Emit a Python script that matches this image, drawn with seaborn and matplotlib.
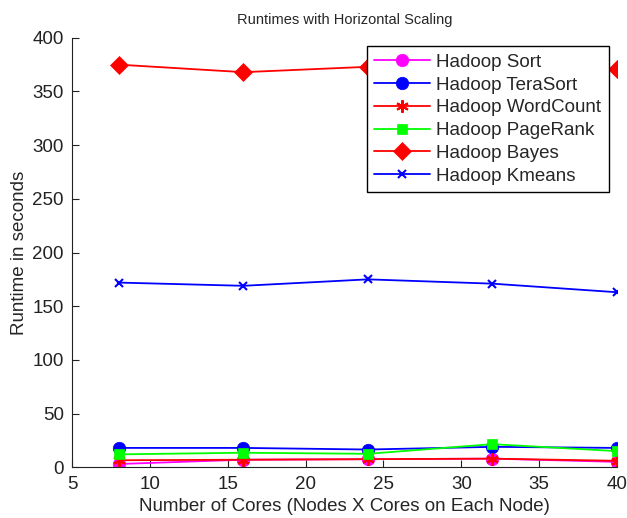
import matplotlib
matplotlib.use("Agg")
import matplotlib.pyplot as plt
import seaborn as sns
import pandas as pd

cores = [8, 16, 24, 32, 40]
sort_vals = [3, 7, 7.5, 8, 5]
terasort_vals = [18, 18, 16.5, 19, 18]
wordcount_vals = [6.5, 7, 7.5, 8, 6]
pagerank_vals = [12, 13.5, 12.5, 21.5, 15]
bayes_vals = [375, 368, 373, 372, 371]
kmeans_vals = [172, 169, 175, 171, 163]

series_names = ["Hadoop Sort", "Hadoop TeraSort", "Hadoop WordCount",
                "Hadoop PageRank", "Hadoop Bayes", "Hadoop Kmeans"]
series_vals = [sort_vals, terasort_vals, wordcount_vals, pagerank_vals, bayes_vals, kmeans_vals]

rows = []
for name, vals in zip(series_names, series_vals):
    for c, v in zip(cores, vals):
        rows.append({"cores": c, "runtime": v, "series": name})
df = pd.DataFrame(rows)

sns.set_style("ticks")
plt.rcParams['font.family'] = ['Liberation Sans', 'DejaVu Sans']

colors = {"Hadoop Sort": "#ff00ff", "Hadoop TeraSort": "#0000ff", "Hadoop WordCount": "#ff0000",
          "Hadoop PageRank": "#00ff00", "Hadoop Bayes": "#ff0000", "Hadoop Kmeans": "#0000ff"}
markers = {"Hadoop Sort": "o", "Hadoop TeraSort": "o", "Hadoop WordCount": (6, 2, 0),
           "Hadoop PageRank": "s", "Hadoop Bayes": "D", "Hadoop Kmeans": "x"}
msizes = {"Hadoop Sort": 9, "Hadoop TeraSort": 9, "Hadoop WordCount": 9,
          "Hadoop PageRank": 7.5, "Hadoop Bayes": 9, "Hadoop Kmeans": 6}

fig = plt.figure(figsize=(6.27, 5.18), dpi=100)
ax = fig.add_axes([0.115, 0.098, 0.869, 0.829])

for name in series_names:
    sub = df[df["series"] == name]
    m = markers[name]
    thin = (m == "x") or isinstance(m, tuple)
    sns.lineplot(data=sub, x="cores", y="runtime", ax=ax, color=colors[name],
                 marker=m, markersize=msizes[name], markeredgecolor=colors[name],
                 markerfacecolor=colors[name], markeredgewidth=1.5 if thin else 0.5,
                 linewidth=1.3, label=name)

ax.set_xlim(5, 40)
ax.set_ylim(0, 400)
ax.set_xticks([5, 10, 15, 20, 25, 30, 35, 40])
ax.set_yticks(range(0, 401, 50))
ax.tick_params(direction="in", top=False, right=False, labelsize=13.5, length=5,
               colors="#222222", width=0.8, pad=6)
ax.spines["top"].set_visible(False)
ax.spines["right"].set_visible(False)
for s in ["left", "bottom"]:
    ax.spines[s].set_color("#222222")
    ax.spines[s].set_linewidth(0.8)
ax.set_xlabel("Number of Cores (Nodes X Cores on Each Node)", fontsize=13.5, labelpad=4)
ax.set_ylabel("Runtime in seconds", fontsize=13.5, labelpad=3)
ax.set_title("Runtimes with Horizontal Scaling", fontsize=10.5, pad=10)
leg = ax.legend(loc="upper right", fontsize=13.5, fancybox=False, framealpha=1,
                edgecolor="black", handlelength=3, handletextpad=0.3,
                borderaxespad=0.45, labelspacing=0.3, borderpad=0.4)
leg.get_frame().set_linewidth(1.0)

fig.savefig("out.png", dpi=100)
